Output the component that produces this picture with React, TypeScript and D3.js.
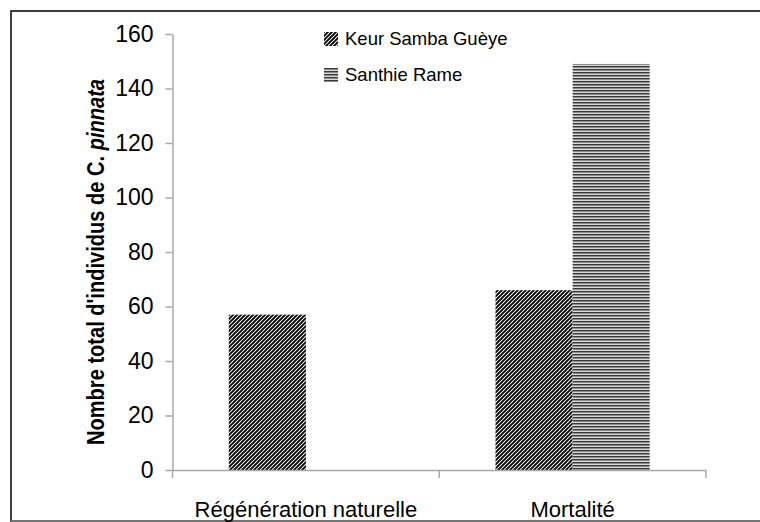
import * as d3 from "d3";
import * as React from "react";

const categories = ["Régénération naturelle", "Mortalité"];
const seriesNames = ["Keur Samba Guèye", "Santhie Rame"];
const keurValues = [57, 66];
const santhieValues = [0, 149];
const yTicks = [0, 20, 40, 60, 80, 100, 120, 140, 160];

export default function App() {
  const width = 760;
  const height = 522;
  const marginLeft = 172.5;
  const marginRight = 54;
  const marginTop = 34;
  const marginBottom = 52;

  const svgRef = React.useRef<SVGSVGElement>(null);

  React.useEffect(() => {
    const svgElement = svgRef.current;
    if (svgElement == null) return;
    const svg = d3.select(svgElement);
    svg.selectAll("*").remove();

    const font = "'Liberation Sans', Arial, sans-serif";
    const axisGrey = "#a8a8a8";

    const defs = svg.append("defs");
    const diag = defs
      .append("pattern")
      .attr("id", "diag")
      .attr("patternUnits", "userSpaceOnUse")
      .attr("width", 4)
      .attr("height", 4);
    diag.append("rect").attr("width", 4).attr("height", 4).attr("fill", "#fff");
    diag
      .append("path")
      .attr("d", "M-1,1 l2,-2 M0,4 l4,-4 M3,5 l2,-2")
      .attr("stroke", "#000")
      .attr("stroke-width", 1.9);

    const horiz = defs
      .append("pattern")
      .attr("id", "horiz")
      .attr("patternUnits", "userSpaceOnUse")
      .attr("width", 4)
      .attr("height", 3);
    horiz.append("rect").attr("width", 4).attr("height", 3).attr("fill", "#d8d8d8");
    horiz.append("rect").attr("width", 4).attr("height", 1.5).attr("fill", "#3a3a3a");

    // frame (cropped on the right)
    svg
      .append("rect")
      .attr("x", 11)
      .attr("y", 11)
      .attr("width", 780)
      .attr("height", 510)
      .attr("fill", "#fff")
      .attr("stroke", "#000")
      .attr("stroke-width", 1.5);
    svg
      .append("line")
      .attr("x1", 11)
      .attr("x2", width)
      .attr("y1", 521)
      .attr("y2", 521)
      .attr("stroke", "#888")
      .attr("stroke-width", 1.5);

    const x0 = d3
      .scaleBand<string>()
      .domain(categories)
      .range([marginLeft, width - marginRight]);
    const x1 = d3
      .scaleBand<string>()
      .domain(seriesNames)
      .range([0, x0.bandwidth()])
      .paddingInner(0)
      .paddingOuter(0.73);
    const y = d3
      .scaleLinear()
      .domain([0, 160])
      .range([height - marginBottom, marginTop]);

    const fills = ["url(#diag)", "url(#horiz)"];
    const values = [keurValues, santhieValues];

    seriesNames.forEach((s, si) => {
      categories.forEach((c, ci) => {
        const v = values[si][ci];
        if (!v) return;
        svg
          .append("rect")
          .attr("x", (x0(c) ?? 0) + (x1(s) ?? 0))
          .attr("y", y(v))
          .attr("width", x1.bandwidth())
          .attr("height", y(0) - y(v))
          .attr("fill", fills[si]);
      });
    });

    // y axis
    const yAxis = svg
      .append("g")
      .attr("transform", `translate(${marginLeft},0)`)
      .call(d3.axisLeft(y).tickValues(yTicks).tickSize(7).tickPadding(12).tickSizeOuter(0));
    yAxis.select(".domain").attr("stroke", axisGrey).attr("stroke-width", 1.5);
    yAxis.selectAll(".tick line").attr("stroke", axisGrey).attr("stroke-width", 1.5);
    yAxis
      .selectAll(".tick text")
      .attr("font-family", font)
      .attr("font-size", 23)
      .attr("fill", "#000");

    // x axis
    const xAxis = svg
      .append("g")
      .attr("transform", `translate(0,${y(0)})`)
      .call(d3.axisBottom(x0).tickSize(0).tickSizeOuter(0).tickPadding(31));
    xAxis.select(".domain").attr("stroke", axisGrey).attr("stroke-width", 1.5);
    xAxis
      .selectAll(".tick text")
      .attr("font-family", font)
      .attr("font-size", 22)
      .attr("fill", "#000");
    const boundaries = [...categories.map((c) => x0(c) ?? 0), x0.range()[1]];
    xAxis
      .selectAll(".sep")
      .data(boundaries)
      .join("line")
      .attr("x1", (d) => d)
      .attr("x2", (d) => d)
      .attr("y1", 0)
      .attr("y2", 8)
      .attr("stroke", axisGrey)
      .attr("stroke-width", 1.5);

    // y label (condensed bold, as in the original)
    const label = svg
      .append("text")
      .attr("transform", `translate(104,262) rotate(-90)`)
      .attr("text-anchor", "middle")
      .attr("font-family", font)
      .attr("font-size", 24)
      .attr("font-weight", "bold")
      .attr("textLength", 366)
      .attr("lengthAdjust", "spacingAndGlyphs")
      .attr("fill", "#000");
    label.append("tspan").text("Nombre total d'individus de C. ");
    label.append("tspan").attr("font-style", "italic").text("pinnata");

    // legend
    const legend = svg.append("g").attr("transform", "translate(324,32)");
    seriesNames.forEach((s, i) => {
      const g = legend.append("g").attr("transform", `translate(0,${i * 36})`);
      g.append("rect").attr("width", 14).attr("height", 14).attr("fill", fills[i]);
      g.append("text")
        .attr("x", 21)
        .attr("y", 7)
        .attr("dy", "0.35em")
        .attr("font-family", font)
        .attr("font-size", 18.5)
        .attr("fill", "#000")
        .text(s);
    });
  }, []);

  return (
    <svg
      ref={svgRef}
      width={width}
      height={height}
      viewBox={`0 0 ${width} ${height}`}
      style={{ position: "absolute", left: 0, top: 0 }}
    ></svg>
  );
}
